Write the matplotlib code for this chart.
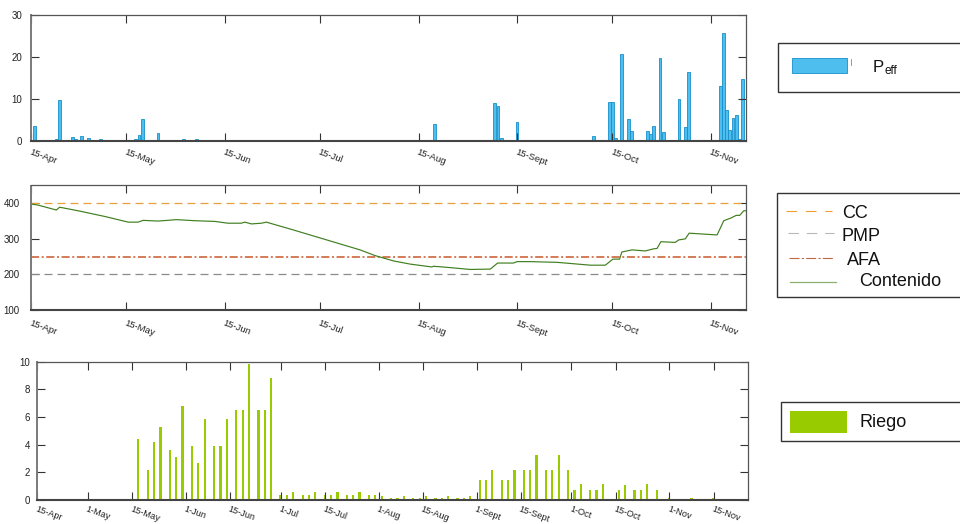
import matplotlib
matplotlib.use('Agg')
import matplotlib.pyplot as plt
from matplotlib.patches import Rectangle
from matplotlib.lines import Line2D

plt.rcParams['font.family'] = ['Liberation Sans', 'DejaVu Sans']

W, H = 960, 524

# ---------------- data (day 0 = 15-Apr) ----------------
peff_day = [1, 8, 9, 13, 14, 16, 18, 22, 33, 34, 35, 40, 48, 52,
            127, 146, 147, 148, 152, 153, 155, 177, 179, 182, 183, 184,
            186, 188, 189, 194, 195, 196, 198, 199, 202, 204, 206, 207, 208,
            217, 218, 219, 220, 221, 222, 223, 224]
peff_val = [3.5, 0.5, 9.6, 1.0, 0.5, 1.2, 0.6, 0.4, 0.3, 1.3, 5.2, 1.8, 0.4, 0.4,
            4.0, 9.0, 8.3, 0.7, 0.2, 4.4, 0.2, 1.1, 0.2, 9.3, 9.2, 0.6,
            20.6, 5.1, 2.2, 2.2, 1.7, 3.4, 19.8, 2.0, 0.2, 10.0, 3.3, 16.4, 0.2,
            13.1, 25.8, 7.4, 2.6, 5.5, 6.1, 0.3, 14.8]

cont_day = [0, 2.2, 8.0, 9.0, 14.8, 23.2, 30.6, 33.7, 35.3, 40, 45.8, 51.6, 57.9,
            62, 66.2, 67.3, 69.4, 72.5, 74.1, 82.6, 93.1, 103.6, 108.3, 114.1,
            119.4, 126.2, 126.7, 130.9, 138.3, 144.6, 146.9, 151.9, 153.0, 157.2,
            165.6, 176.1, 180.8, 183.2, 185.3, 186.0, 189.2, 193.4, 196.0, 197.1,
            198.3, 202.8, 203.9, 206.0, 207.2, 216.0, 218.1, 220.2, 222.0, 223.1,
            224.4, 225]
cont_val = [398, 395, 381, 389, 379, 363, 347, 347, 352, 350, 354, 351, 349,
            344, 344, 347, 342, 344, 347, 325, 297, 269, 253, 238,
            229, 221, 223, 220, 214, 215, 232, 232, 236, 236,
            234, 226, 226, 243, 243, 263, 269, 266, 272, 273,
            292, 290, 297, 300, 316, 311, 351, 358, 366, 366,
            379, 379]

CC_val = 400
PMP_val = 200
AFA_val = 250

riego_day = [32, 35, 37, 39, 42, 44, 46, 49, 51, 53, 56, 58, 60, 63, 65, 67, 70, 72, 74,
             77, 79, 81, 84, 86, 88, 91, 93, 95, 98, 100, 102, 105, 107, 109, 112, 114,
             116, 119, 121, 123, 126, 128, 130, 133, 135, 137, 140, 142, 144, 147, 149,
             151, 154, 156, 158, 161, 163, 165, 168, 170, 172, 175, 177, 179, 184, 186,
             189, 191, 193, 196, 200, 203, 205, 207, 210, 212, 214]
riego_val = [4.4, 2.17, 4.2, 5.25, 3.6, 3.1, 6.8, 3.9, 2.7, 5.85, 3.9, 3.9, 5.85, 6.5, 6.5,
             9.8, 6.5, 6.5, 8.8,
             0.36, 0.36, 0.55, 0.36, 0.36, 0.55, 0.36, 0.36, 0.55, 0.36, 0.36, 0.55, 0.36,
             0.36, 0.27, 0.18, 0.18, 0.27, 0.18, 0.18, 0.27, 0.18, 0.18, 0.27, 0.18, 0.18,
             0.27, 1.47, 1.47, 2.2, 1.47, 1.47, 2.2, 2.2, 2.2, 3.25, 2.2, 2.2, 3.25, 2.2,
             0.75, 1.13, 0.75, 0.75, 1.13, 0.75, 1.06, 0.75, 0.75, 1.13, 0.75,
             0.15, 0.1, 0.1, 0.15, 0.1, 0.1, 0.15]

main_tick_day = [0, 30, 61, 91, 122, 153, 183, 214]
main_tick_lab = ['15-Apr', '15-May', '15-Jun', '15-Jul', '15-Aug', '15-Sept', '15-Oct', '15-Nov']
riego_tick_day = [0, 16, 30, 47, 61, 77, 91, 108, 122, 139, 153, 169, 183, 200, 214]
riego_tick_lab = ['15-Apr', '1-May', '15-May', '1-Jun', '15-Jun', '1-Jul', '15-Jul', '1-Aug',
                  '15-Aug', '1-Sept', '15-Sept', '1-Oct', '15-Oct', '1-Nov', '15-Nov']

# ---------------- figure ----------------
fig = plt.figure(figsize=(W / 100, H / 100), dpi=100)


def px_axes(l, t, r, b):
    return fig.add_axes([l / W, 1 - b / H, (r - l) / W, (b - t) / H])


def style(ax, xpad, ypad):
    for side in ['top', 'right']:
        ax.spines[side].set_color('#555555')
        ax.spines[side].set_linewidth(0.9)
    ax.spines['left'].set_color('#7a7a7a')
    ax.spines['left'].set_linewidth(1.4)
    ax.spines['bottom'].set_color('#444444')
    ax.spines['bottom'].set_linewidth(1.5)
    ax.tick_params(direction='in', length=5.5, width=0.8, color='#333333',
                   top=True, right=True, labelsize=7, labelcolor='#222222')
    ax.tick_params(axis='x', pad=xpad, labelsize=6.8)
    ax.tick_params(axis='y', pad=ypad)


def xlabels(ax, days, labs):
    ax.set_xticks(days)
    ax.set_xticklabels(labs, rotation=-20, ha='left', rotation_mode='anchor')


# --- top: effective precipitation ---
ax1 = px_axes(31, 15, 745.7, 140.7)
ax1.bar(peff_day, peff_val, width=0.9, color='#4DBEEE', edgecolor='#1590cc', linewidth=0.6)
ax1.set_xlim(0, 225)
ax1.set_ylim(0, 30)
ax1.set_yticks([0, 10, 20, 30])
xlabels(ax1, main_tick_day, main_tick_lab)
style(ax1, 5, 6.3)

# --- middle: soil water content ---
ax2 = px_axes(31, 185.5, 745.7, 310)
ax2.axhline(CC_val, color='#E8A03A', lw=0.9, dashes=(6.4, 4))
ax2.axhline(PMP_val, color='#8a8a8a', lw=0.9, dashes=(6.4, 4))
ax2.axhline(AFA_val, color='#C8572A', lw=1.1, dashes=(5.3, 1.7, 1.3, 1.7))
ax2.plot(cont_day, cont_val, color='#3f7f1f', lw=0.85)
ax2.set_xlim(0, 225)
ax2.set_ylim(100, 450)
ax2.set_yticks([100, 200, 300, 400])
xlabels(ax2, main_tick_day, main_tick_lab)
style(ax2, 6, 8)

# --- bottom: irrigation ---
ax3 = px_axes(37.2, 361.7, 748.3, 500)
ax3.bar(riego_day, riego_val, width=0.7, color='#99CC00', linewidth=0)
ax3.set_xlim(0, 225)
ax3.set_ylim(0, 10)
ax3.set_yticks([0, 2, 4, 6, 8, 10])
xlabels(ax3, riego_tick_day, riego_tick_lab)
style(ax3, 3.5, 5.2)
ax3.tick_params(axis='x', labelsize=6.6)


# ---------------- legends (figure pixel coords) ----------------
def fx(x):
    return x / W


def fy(y):
    return 1 - y / H


def box(l, t, r, b, **kw):
    fig.add_artist(Rectangle((fx(l), fy(b)), (r - l) / W, (b - t) / H,
                             transform=fig.transFigure, **kw))


def seg(x0, x1, y, **kw):
    fig.add_artist(Line2D([fx(x0), fx(x1)], [fy(y), fy(y)], transform=fig.transFigure, **kw))


# legend 1: Peff
box(777.5, 43.5, 965, 91.5, facecolor='white', edgecolor='#333333', lw=1.0)
box(791.7, 58.3, 846.7, 72.7, facecolor='#4DBEEE', edgecolor='#1590cc', lw=0.6)
fig.add_artist(Line2D([fx(851), fx(851)], [fy(59), fy(64.5)], transform=fig.transFigure,
                      color='#888888', lw=0.6))
fig.text(fx(873), fy(67.5), 'P', fontsize=12, va='center', ha='left', color='#111111')
fig.text(fx(884.5), fy(71.5), 'eff', fontsize=8.5, va='center', ha='left', color='#111111')

# legend 2: water content
box(777, 192.5, 965, 296.5, facecolor='white', edgecolor='#333333', lw=1.0)
seg(786, 832, 210.7, color='#F0A030', lw=0.8, dashes=(9.5, 8))
seg(788, 834, 233.3, color='#b8b8b8', lw=0.8, dashes=(9.5, 7))
seg(789, 834, 258.3, color='#C06a45', lw=0.8, dashes=(9, 2, 2, 2))
seg(790, 836, 282.3, color='#8ab070', lw=0.9)
fig.text(fx(841.7), fy(213.3), 'CC', fontsize=13, va='center', ha='left', color='#111111')
fig.text(fx(841.7), fy(236.7), 'PMP', fontsize=13, va='center', ha='left', color='#111111')
fig.text(fx(847.3), fy(260.7), 'AFA', fontsize=13, va='center', ha='left', color='#111111')
fig.text(fx(859.3), fy(282), 'Contenido', fontsize=13, va='center', ha='left', color='#111111')

# legend 3: Riego
box(781, 402, 965, 441, facecolor='white', edgecolor='#333333', lw=1.0)
box(790, 411, 846.7, 433.3, facecolor='#99CC00', edgecolor='none')
fig.text(fx(859.3), fy(422.7), 'Riego', fontsize=13, va='center', ha='left', color='#111111')

fig.savefig('out.png', dpi=100)
